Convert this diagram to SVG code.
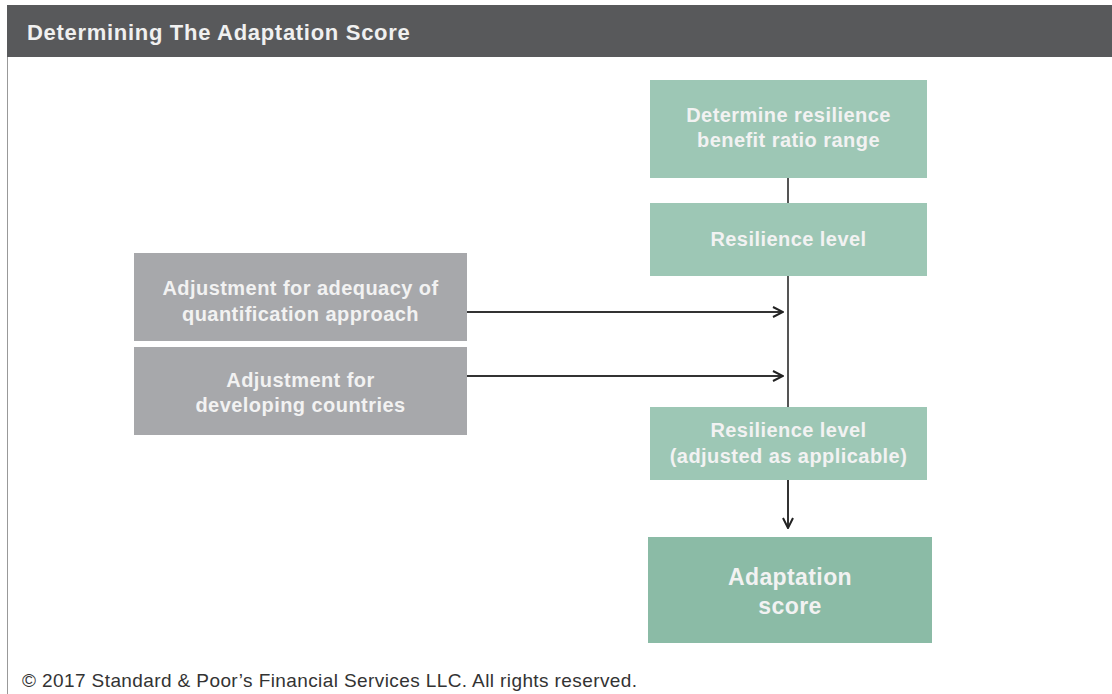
<svg xmlns="http://www.w3.org/2000/svg" width="1112" height="694" viewBox="0 0 1112 694">
<style>
.t{font-family:"Liberation Sans",Arial,sans-serif;font-weight:bold;fill:#f2f2f2;text-anchor:middle;font-size:20px;letter-spacing:0.45px}
.g{fill:#9dc7b5}
.gr{fill:#a7a8ab}
.c{stroke:#555;stroke-width:2;fill:none}
</style>
<defs>
<marker id="ah" viewBox="0 0 12 12" refX="11" refY="6" markerWidth="12" markerHeight="12" markerUnits="userSpaceOnUse" orient="auto">
<path d="M1,1 L11,6 L1,11" fill="none" stroke="#222" stroke-width="2"/>
</marker>
</defs>
<rect width="1112" height="694" fill="#fff"/>
<g id="header">
<rect x="7" y="5" width="1105" height="52" fill="#58595b"/>
<line x1="7.5" y1="57" x2="7.5" y2="694" stroke="#999" stroke-width="1"/>
<text x="27" y="40" font-family="Liberation Sans,Arial,sans-serif" font-weight="bold" font-size="22" letter-spacing="0.7" fill="#f0f0f0">Determining The Adaptation Score</text>
</g>
<g id="connectors">
<line class="c" x1="788" y1="178" x2="788" y2="203"/>
<line class="c" x1="788" y1="276" x2="788" y2="407"/>
<line x1="788" y1="480" x2="788" y2="528" stroke="#333" stroke-width="2" marker-end="url(#ah)"/>
<line x1="467" y1="312" x2="783" y2="312" stroke="#333" stroke-width="2" marker-end="url(#ah)"/>
<line x1="467" y1="376" x2="783" y2="376" stroke="#333" stroke-width="2" marker-end="url(#ah)"/>
</g>
<g id="n1">
<rect class="g" x="650" y="80" width="277" height="98"/>
<text class="t" x="788.5" y="122">Determine resilience</text>
<text class="t" x="788.5" y="147">benefit ratio range</text>
</g>
<g id="n2">
<rect class="g" x="650" y="203" width="277" height="73"/>
<text class="t" x="788.5" y="246">Resilience level</text>
</g>
<g id="n3">
<rect class="gr" x="134" y="253" width="333" height="88"/>
<text class="t" x="300.5" y="295">Adjustment for adequacy of</text>
<text class="t" x="300.5" y="321">quantification approach</text>
</g>
<g id="n4">
<rect class="gr" x="134" y="347" width="333" height="88"/>
<text class="t" x="300.5" y="387">Adjustment for</text>
<text class="t" x="300.5" y="412">developing countries</text>
</g>
<g id="n5">
<rect class="g" x="650" y="407" width="277" height="73"/>
<text class="t" x="788.5" y="437">Resilience level</text>
<text class="t" x="788.5" y="463">(adjusted as applicable)</text>
</g>
<g id="n6">
<rect x="648" y="537" width="284" height="106" fill="#8bbba6"/>
<text class="t" style="font-size:23px;letter-spacing:0.4px" x="790" y="585">Adaptation</text>
<text class="t" style="font-size:23px;letter-spacing:0.4px" x="790" y="614">score</text>
</g>
<text x="22" y="687" font-family="Liberation Sans,Arial,sans-serif" font-size="19" letter-spacing="0.4" fill="#333">© 2017 Standard &amp; Poor’s Financial Services LLC. All rights reserved.</text>
</svg>
